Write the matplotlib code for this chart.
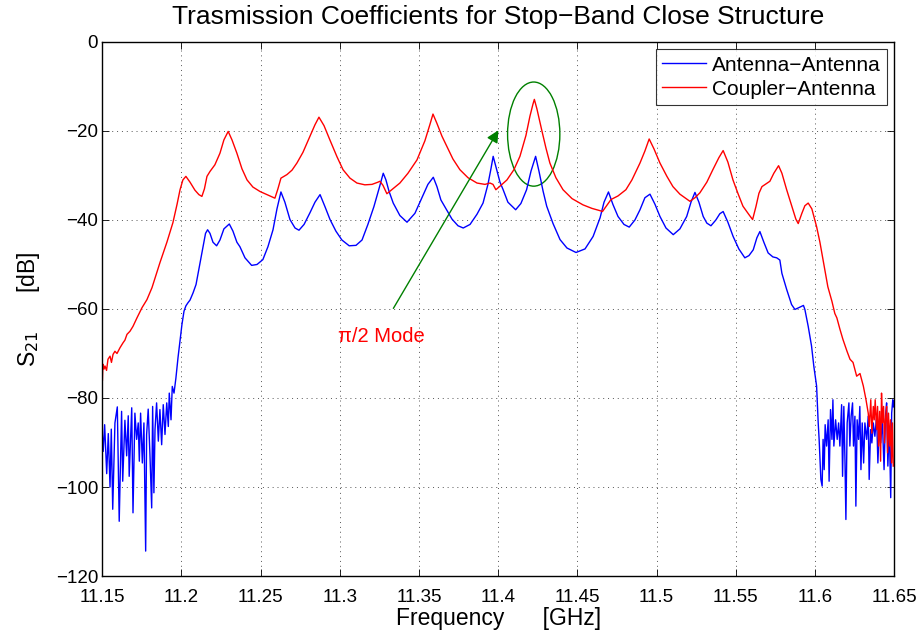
import matplotlib
matplotlib.use("Agg")
import matplotlib.pyplot as plt
from matplotlib.patches import Ellipse
import numpy as np

plt.rcParams['font.family'] = ['Liberation Sans', 'DejaVu Sans']

# Antenna-Antenna (blue)
aa_freq = [11.1500, 11.1506, 11.1515, 11.1528, 11.1538, 11.1549, 11.1557, 11.1566, 11.1580, 11.1595,
           11.1607, 11.1622, 11.1629, 11.1643, 11.1654, 11.1664, 11.1670, 11.1686, 11.1694, 11.1706,
           11.1717, 11.1727, 11.1734, 11.1742, 11.1753, 11.1763, 11.1774, 11.1780, 11.1790, 11.1801,
           11.1812, 11.1818, 11.1826, 11.1833, 11.1843, 11.1854, 11.1864, 11.1875, 11.1885, 11.1896,
           11.1907, 11.1917, 11.1923, 11.1934, 11.1942, 11.1953, 11.1965, 11.1978, 11.1991, 11.2003,
           11.2016, 11.2028, 11.2041, 11.2054, 11.2073, 11.2092, 11.2105, 11.2117, 11.2136, 11.2152,
           11.2165, 11.2180, 11.2199, 11.2222, 11.2243, 11.2268, 11.2302, 11.2325, 11.2350, 11.2369,
           11.2401, 11.2443, 11.2477, 11.2514, 11.2546, 11.2578, 11.2603, 11.2628, 11.2653, 11.2685,
           11.2717, 11.2742, 11.2774, 11.2811, 11.2843, 11.2875, 11.2906, 11.2938, 11.2975, 11.3013,
           11.3059, 11.3102, 11.3140, 11.3177, 11.3215, 11.3247, 11.3274, 11.3291, 11.3310, 11.3337,
           11.3379, 11.3424, 11.3474, 11.3518, 11.3556, 11.3590, 11.3613, 11.3638, 11.3674, 11.3708,
           11.3746, 11.3779, 11.3822, 11.3866, 11.3904, 11.3935, 11.3954, 11.3968, 11.3985, 11.4011,
           11.4031, 11.4061, 11.4110, 11.4143, 11.4179, 11.4207, 11.4236, 11.4257, 11.4283, 11.4306,
           11.4346, 11.4390, 11.4434, 11.4491, 11.4548, 11.4599, 11.4643, 11.4668, 11.4696, 11.4724,
           11.4756, 11.4794, 11.4827, 11.4863, 11.4895, 11.4926, 11.4958, 11.4990, 11.5021, 11.5059,
           11.5105, 11.5147, 11.5190, 11.5217, 11.5242, 11.5267, 11.5294, 11.5317, 11.5343, 11.5374,
           11.5399, 11.5420, 11.5450, 11.5483, 11.5519, 11.5557, 11.5583, 11.5610, 11.5633, 11.5652,
           11.5677, 11.5704, 11.5734, 11.5758, 11.5778, 11.5791, 11.5821, 11.5852, 11.5873, 11.5892,
           11.5915, 11.5927, 11.5936, 11.5957, 11.5978, 11.5993, 11.6010, 11.6020, 11.6026, 11.6037,
           11.6045, 11.6051, 11.6058, 11.6064, 11.6073, 11.6083, 11.6089, 11.6098, 11.6107, 11.6113,
           11.6119, 11.6130, 11.6140, 11.6149, 11.6157, 11.6168, 11.6174, 11.6182, 11.6189, 11.6195,
           11.6203, 11.6214, 11.6220, 11.6228, 11.6237, 11.6243, 11.6252, 11.6258, 11.6266, 11.6275,
           11.6283, 11.6290, 11.6298, 11.6307, 11.6315, 11.6326, 11.6336, 11.6342, 11.6351, 11.6359,
           11.6368, 11.6378, 11.6389, 11.6397, 11.6406, 11.6415, 11.6425, 11.6436, 11.6445, 11.6452,
           11.6460, 11.6469, 11.6478, 11.6484, 11.6491, 11.6496]
aa_db = [-88.0, -92.0, -86.0, -97.0, -88.0, -100.0, -87.0, -105.0, -85.6, -82.0,
         -107.7, -83.0, -98.7, -85.0, -93.0, -84.0, -97.6, -82.2, -105.8, -83.4,
         -89.3, -85.6, -94.2, -83.4, -94.6, -85.6, -114.4, -88.2, -82.5, -92.7,
         -104.7, -81.9, -101.3, -87.1, -81.1, -89.7, -82.6, -90.5, -81.5, -88.2,
         -81.1, -86.4, -78.9, -84.9, -77.4, -78.9, -75.5, -71.0, -67.0, -63.5,
         -60.5, -59.3, -58.6, -58.0, -56.4, -54.5, -52.0, -49.6, -46.0, -43.0,
         -42.2, -43.0, -45.0, -45.8, -44.5, -42.0, -40.9, -42.5, -45.0, -46.0,
         -48.5, -50.2, -50.0, -48.9, -46.0, -42.2, -37.5, -33.7, -36.0, -39.9,
         -41.8, -42.3, -41.0, -38.4, -36.0, -34.3, -37.0, -39.9, -42.5, -44.5,
         -45.8, -45.7, -44.5, -41.0, -37.0, -33.0, -29.5, -31.0, -33.5, -36.2,
         -39.0, -40.5, -38.5, -35.0, -32.0, -30.4, -32.5, -35.5, -37.7, -39.8,
         -41.3, -41.8, -41.0, -38.7, -36.2, -32.0, -28.5, -25.7, -28.0, -31.5,
         -33.2, -36.0, -37.7, -36.3, -33.2, -29.0, -25.7, -29.0, -33.5, -36.9,
         -40.8, -44.4, -46.3, -47.3, -46.5, -43.7, -39.5, -36.0, -33.7, -36.5,
         -39.2, -41.0, -41.6, -40.0, -37.7, -35.0, -34.2, -36.5, -39.2, -41.8,
         -43.3, -42.0, -39.2, -36.0, -33.8, -36.0, -39.2, -40.7, -41.3, -40.0,
         -38.6, -38.1, -40.5, -43.7, -46.5, -48.5, -48.0, -46.7, -44.0, -42.6,
         -45.0, -47.4, -48.3, -48.5, -49.0, -52.0, -55.6, -59.0, -60.1, -59.8,
         -59.4, -59.2, -60.1, -63.9, -68.3, -73.0, -77.3, -85.5, -89.3, -98.3,
         -99.8, -89.3, -96.1, -86.0, -90.8, -84.9, -98.7, -82.6, -89.3, -80.4,
         -90.8, -84.9, -89.3, -85.6, -90.8, -81.5, -97.6, -81.9, -93.8, -107.3,
         -85.6, -81.1, -90.8, -84.1, -81.1, -90.8, -84.1, -104.3, -84.9, -89.3,
         -81.9, -96.1, -85.6, -94.6, -85.6, -89.3, -84.1, -98.3, -87.1, -90.1,
         -85.6, -88.6, -84.1, -94.6, -86.4, -90.1, -84.9, -96.1, -84.1, -81.1,
         -95.3, -86.4, -102.4, -83.4, -80.4, -82.0]

# Coupler-Antenna (red)
ca_freq = [11.1501, 11.1504, 11.1511, 11.1517, 11.1527, 11.1536, 11.1549, 11.1558, 11.1568, 11.1580,
           11.1593, 11.1612, 11.1631, 11.1643, 11.1656, 11.1675, 11.1694, 11.1719, 11.1751, 11.1782,
           11.1814, 11.1864, 11.1908, 11.1946, 11.1972, 11.1991, 11.2009, 11.2028, 11.2054, 11.2085,
           11.2110, 11.2129, 11.2145, 11.2161, 11.2180, 11.2211, 11.2243, 11.2268, 11.2295, 11.2319,
           11.2350, 11.2382, 11.2414, 11.2451, 11.2496, 11.2546, 11.2590, 11.2609, 11.2628, 11.2666,
           11.2698, 11.2729, 11.2767, 11.2811, 11.2843, 11.2868, 11.2900, 11.2937, 11.2982, 11.3020,
           11.3064, 11.3108, 11.3158, 11.3203, 11.3241, 11.3253, 11.3272, 11.3297, 11.3335, 11.3379,
           11.3430, 11.3487, 11.3537, 11.3569, 11.3588, 11.3613, 11.3645, 11.3676, 11.3714, 11.3758,
           11.3809, 11.3866, 11.3916, 11.3948, 11.3967, 11.3985, 11.4011, 11.4055, 11.4099, 11.4137,
           11.4175, 11.4200, 11.4219, 11.4228, 11.4244, 11.4274, 11.4301, 11.4326, 11.4364, 11.4409,
           11.4466, 11.4535, 11.4592, 11.4642, 11.4658, 11.4680, 11.4712, 11.4756, 11.4806, 11.4844,
           11.4895, 11.4926, 11.4953, 11.4983, 11.5021, 11.5065, 11.5103, 11.5147, 11.5210, 11.5242,
           11.5273, 11.5317, 11.5355, 11.5393, 11.5420, 11.5450, 11.5482, 11.5513, 11.5545, 11.5583,
           11.5606, 11.5627, 11.5646, 11.5665, 11.5690, 11.5715, 11.5740, 11.5770, 11.5791, 11.5821,
           11.5854, 11.5879, 11.5894, 11.5917, 11.5936, 11.5957, 11.5980, 11.6010, 11.6031, 11.6056,
           11.6081, 11.6107, 11.6125, 11.6138, 11.6157, 11.6176, 11.6202, 11.6221, 11.6240, 11.6263,
           11.6284, 11.6305, 11.6322, 11.6336, 11.6343, 11.6352, 11.6359, 11.6368, 11.6374, 11.6380,
           11.6389, 11.6395, 11.6401, 11.6408, 11.6414, 11.6420, 11.6426, 11.6433, 11.6439, 11.6445,
           11.6452, 11.6458, 11.6464, 11.6471, 11.6477, 11.6483, 11.6489, 11.6494]
ca_db = [-76.0, -72.4, -73.5, -72.8, -73.8, -71.3, -70.6, -72.0, -70.2, -69.5,
         -70.0, -68.7, -67.6, -67.0, -65.7, -65.0, -63.9, -62.0, -59.7, -57.9,
         -55.2, -49.6, -45.0, -40.6, -36.5, -33.2, -31.0, -30.2, -31.5, -33.3,
         -34.3, -34.7, -33.0, -30.2, -29.1, -27.6, -25.0, -22.0, -20.1, -22.0,
         -25.0, -28.5, -31.0, -32.6, -33.6, -34.4, -35.1, -33.0, -30.6, -29.8,
         -28.8, -27.2, -24.8, -21.2, -18.6, -16.9, -18.8, -22.0, -25.8, -28.7,
         -30.6, -31.7, -32.1, -32.0, -31.5, -31.3, -32.2, -34.1, -33.0, -31.7,
         -29.5, -26.5, -22.2, -18.5, -16.2, -18.3, -21.2, -23.5, -26.3, -28.7,
         -30.5, -31.7, -32.0, -31.7, -32.0, -33.2, -32.4, -31.0, -28.7, -25.7,
         -21.0, -16.7, -14.0, -12.9, -15.0, -19.7, -23.8, -27.2, -30.5, -33.2,
         -35.2, -36.6, -37.4, -37.9, -38.1, -37.0, -35.4, -34.6, -33.2, -31.0,
         -27.2, -24.5, -21.8, -24.0, -27.2, -30.2, -32.5, -34.2, -35.8, -35.0,
         -33.9, -31.5, -28.7, -26.0, -24.4, -27.0, -31.0, -34.0, -36.9, -38.8,
         -39.9, -37.0, -34.0, -32.5, -31.9, -31.3, -29.5, -27.8, -29.5, -33.2,
         -37.0, -39.8, -40.8, -38.5, -36.8, -36.2, -37.5, -41.5, -45.0, -50.0,
         -55.0, -58.3, -61.0, -62.0, -64.5, -66.8, -69.5, -71.3, -72.0, -75.1,
         -74.5, -77.3, -80.4, -83.4, -86.4, -80.4, -87.9, -81.9, -84.9, -80.4,
         -87.1, -81.9, -90.8, -83.0, -94.2, -78.9, -85.6, -81.9, -90.1, -84.9,
         -81.9, -92.3, -83.4, -90.8, -84.9, -94.6, -85.6, -95.3]

x_ticks = [11.15, 11.2, 11.25, 11.3, 11.35, 11.4, 11.45, 11.5, 11.55, 11.6, 11.65]
x_tick_labels = ['11.15', '11.2', '11.25', '11.3', '11.35', '11.4', '11.45', '11.5', '11.55', '11.6', '11.65']
y_ticks = [0, -20, -40, -60, -80, -100, -120]
y_tick_labels = ['0', '\u221220', '\u221240', '\u221260', '\u221280', '\u2212100', '\u2212120']

fig = plt.figure(figsize=(9.23, 6.35), dpi=100)
ax = fig.add_axes([0.1108, 0.0929, 0.858, 0.841])

ax.plot(aa_freq, aa_db, color='#0000ff', lw=1.0, label='Antenna\u2212Antenna')
ax.plot(ca_freq, ca_db, color='#ff0000', lw=1.0, label='Coupler\u2212Antenna')

ax.set_xlim(11.15, 11.65)
ax.set_ylim(-120, 0)
ax.set_xticks(x_ticks)
ax.set_xticklabels(x_tick_labels)
ax.set_yticks(y_ticks)
ax.set_yticklabels(y_tick_labels)
ax.tick_params(direction='in', top=True, right=True, labelsize=13.5, length=5, width=0.6)
ax.tick_params(axis='x', pad=9)
ax.tick_params(axis='y', pad=3)
ax.grid(True, linestyle=(0, (1, 4)), color='#555555', linewidth=0.7)
for s in ax.spines.values():
    s.set_linewidth(1.0)

ax.set_title('Trasmission Coefficients for Stop\u2212Band Close Structure', fontsize=19, pad=13)
ax.set_xlabel('Frequency      [GHz]', fontsize=16.5, labelpad=1)
ax.set_ylabel('S$_{21}$      [dB]', fontsize=16.5, labelpad=10)

leg = ax.legend(loc='upper right', fontsize=15, frameon=True, fancybox=False,
                edgecolor='black', borderaxespad=0.35, handlelength=2.1, handletextpad=0.3,
                labelspacing=0.25, borderpad=0.3)
leg.get_frame().set_linewidth(0.8)

# annotation: ellipse, arrow, text
ax.add_patch(Ellipse((11.4224, -20.7), 0.0330, 23.4, fill=False, edgecolor='#008000', lw=1.0))
ax.annotate('', xy=(11.4010, -19.3), xytext=(11.3329, -60.4),
            arrowprops=dict(arrowstyle='-|>', color='#008000', lw=1.0, mutation_scale=18))
ax.text(11.2988, -66.1, '\u03c0/2 Mode', color='#ff0000', fontsize=14.5, ha='left', va='center')

fig.savefig('out.png', dpi=100)
